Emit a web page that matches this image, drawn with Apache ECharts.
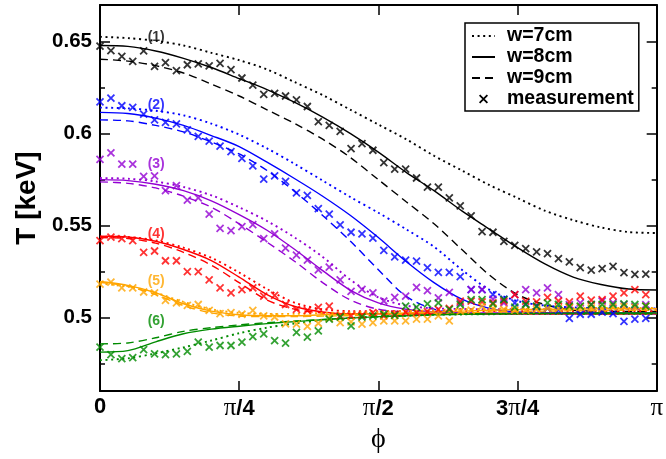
<!DOCTYPE html>
<html><head><meta charset="utf-8">
<script src="https://cdn.jsdelivr.net/npm/echarts@6/dist/echarts.min.js"></script>
<style>html,body{margin:0;padding:0;background:#fff}#c{width:666px;height:459px}</style>
</head><body><div id="c"></div>
<script>
// ---- data ----
const xTickValues = [0, 0.25, 0.5, 0.75, 1];
const xTickLabels = ['0', 'π/4', 'π/2', '3π/4', 'π'];
const yTickValues = [0.5, 0.55, 0.6, 0.65];
const yTickLabels = ['0.5', '0.55', '0.6', '0.65'];
const yMinorTicks = [0.475, 0.525, 0.575, 0.625];
const legendNames = ['w=7cm', 'w=8cm', 'w=9cm', 'measurement'];
const groupLabels = ['(1)', '(2)', '(3)', '(4)', '(5)', '(6)'];
const groupLabelX = [0.101, 0.101, 0.101, 0.101, 0.101, 0.101];
const groupLabelY = [0.6527, 0.6153, 0.5837, 0.5455, 0.5196, 0.4982];

// phi in units of pi
const phiCurve = [0,0.05,0.1,0.15,0.2,0.25,0.3,0.35,0.4,0.45,0.5,0.55,0.6,0.65,0.7,0.75,0.8,0.85,0.9,0.95,1];
const phiMeas = [0,0.0196,0.0392,0.0588,0.0784,0.098,0.1176,0.1373,0.1569,0.1765,0.1961,0.2157,0.2353,0.2549,0.2745,0.2941,0.3137,0.3333,0.3529,0.3725,0.3922,0.4118,0.4314,0.451,0.4706,0.4902,0.5098,0.5294,0.549,0.5686,0.5882,0.6078,0.6275,0.6471,0.6667,0.6863,0.7059,0.7255,0.7451,0.7647,0.7843,0.8039,0.8235,0.8431,0.8627,0.8824,0.902,0.9216,0.9412,0.9608,0.9804];

const c1Dot = [0.6527,0.652,0.6505,0.648,0.644,0.640,0.635,0.628,0.621,0.613,0.605,0.597,0.588,0.580,0.572,0.565,0.558,0.553,0.549,0.5465,0.546];
const c1Sol = [0.648,0.6475,0.645,0.641,0.636,0.630,0.624,0.617,0.609,0.600,0.590,0.579,0.569,0.558,0.548,0.538,0.529,0.522,0.518,0.5155,0.515];
const c1Das = [0.6405,0.6395,0.637,0.633,0.627,0.6205,0.613,0.6055,0.597,0.587,0.575,0.563,0.551,0.537,0.523,0.5125,0.507,0.504,0.5035,0.5033,0.5033];
const c2Dot = [0.6142,0.6138,0.6125,0.610,0.6055,0.5995,0.592,0.5835,0.5745,0.5655,0.557,0.548,0.5385,0.526,0.515,0.509,0.5065,0.5055,0.505,0.505,0.505];
const c2Sol = [0.6116,0.611,0.6085,0.6045,0.599,0.593,0.5845,0.5755,0.566,0.5555,0.5435,0.5305,0.519,0.510,0.505,0.503,0.5027,0.5027,0.5027,0.5027,0.5027];
const c2Das = [0.6075,0.607,0.6045,0.601,0.5955,0.589,0.580,0.5685,0.5555,0.5415,0.526,0.5115,0.5045,0.5025,0.502,0.502,0.502,0.502,0.502,0.502,0.502];
const c3Dot = [0.5759,0.5755,0.574,0.571,0.5665,0.560,0.5525,0.5435,0.533,0.5205,0.511,0.5065,0.505,0.5047,0.5045,0.5045,0.5045,0.5045,0.5045,0.5045,0.5045];
const c3Sol = [0.575,0.5745,0.5725,0.569,0.5635,0.556,0.5475,0.537,0.5255,0.5148,0.508,0.5045,0.503,0.5025,0.5025,0.5025,0.5025,0.5025,0.5025,0.5025,0.5025];
const c3Das = [0.5738,0.573,0.5705,0.566,0.560,0.551,0.541,0.5305,0.519,0.5095,0.5045,0.503,0.5025,0.5022,0.5022,0.5022,0.5022,0.5022,0.5022,0.5022,0.5022];
const c4Dot = [0.544,0.5438,0.542,0.538,0.5325,0.5245,0.5155,0.508,0.5045,0.5035,0.5035,0.5035,0.5035,0.5035,0.5035,0.5035,0.5035,0.5035,0.5035,0.5035,0.5035];
const c4Sol = [0.5442,0.5438,0.5415,0.537,0.531,0.522,0.5125,0.506,0.503,0.502,0.502,0.502,0.502,0.502,0.502,0.502,0.502,0.502,0.502,0.502,0.502];
const c4Das = [0.5435,0.543,0.5405,0.5355,0.5285,0.519,0.5095,0.5045,0.5025,0.502,0.502,0.502,0.502,0.502,0.502,0.502,0.502,0.502,0.502,0.502,0.502];
const c5Dot = [0.5185,0.5168,0.5135,0.5085,0.5045,0.5025,0.502,0.502,0.5025,0.5028,0.503,0.5035,0.504,0.5045,0.5048,0.505,0.505,0.5051,0.5052,0.5052,0.5052];
const c5Sol = [0.5196,0.5175,0.5135,0.5075,0.5035,0.5015,0.501,0.501,0.5015,0.5018,0.502,0.5025,0.503,0.5035,0.504,0.5043,0.5045,0.5046,0.5047,0.5048,0.5048];
const c5Das = [0.5192,0.517,0.5125,0.5065,0.5025,0.5008,0.5005,0.5005,0.5008,0.501,0.5012,0.5016,0.502,0.5025,0.503,0.5033,0.5035,0.5037,0.5038,0.504,0.504];
const c6Dot = [0.4768,0.4778,0.4805,0.4838,0.4875,0.4915,0.4945,0.4968,0.4985,0.4997,0.5005,0.501,0.5015,0.5017,0.5018,0.502,0.502,0.502,0.502,0.502,0.502];
const c6Sol = [0.4812,0.482,0.4868,0.4912,0.4937,0.4953,0.4967,0.4978,0.4988,0.4997,0.5005,0.501,0.5015,0.5018,0.502,0.5022,0.5023,0.5024,0.5025,0.5025,0.5025];
const c6Das = [0.4857,0.4862,0.489,0.4925,0.4945,0.496,0.4972,0.4981,0.499,0.4998,0.5005,0.501,0.5015,0.5018,0.502,0.5022,0.5022,0.5022,0.5022,0.5022,0.5022];

const m1 = [0.6476,0.6452,0.642,0.6393,0.645,0.6366,0.6387,0.6343,0.6375,0.638,0.6369,0.6382,0.6348,0.6303,0.6264,0.6214,0.6219,0.6205,0.6184,0.6148,0.6066,0.6045,0.6013,0.5919,0.5946,0.591,0.5843,0.5807,0.5807,0.5759,0.571,0.571,0.5651,0.5607,0.5553,0.5468,0.5464,0.5414,0.5393,0.5375,0.5357,0.5348,0.5321,0.5303,0.5271,0.5258,0.5266,0.5278,0.5245,0.5235,0.5236];
const m2 = [0.6173,0.6193,0.6152,0.6143,0.6107,0.6075,0.6062,0.6053,0.6021,0.5986,0.596,0.5932,0.5902,0.5866,0.5825,0.5753,0.5771,0.5741,0.5678,0.5664,0.5592,0.5562,0.5504,0.5464,0.5455,0.5432,0.5366,0.533,0.5312,0.5307,0.5271,0.5246,0.5246,0.5223,0.5152,0.5152,0.5125,0.510,0.508,0.5075,0.506,0.505,0.504,0.4995,0.5018,0.5018,0.503,0.5022,0.4979,0.4991,0.4995];
const m3 = [0.586,0.5896,0.5834,0.5834,0.5768,0.5771,0.5691,0.5718,0.5639,0.5651,0.5562,0.5485,0.5473,0.5495,0.5505,0.5429,0.5455,0.5378,0.5339,0.5312,0.5259,0.5274,0.5205,0.5143,0.5153,0.5134,0.509,0.511,0.5116,0.5164,0.5146,0.5107,0.5137,0.508,0.5152,0.5152,0.510,0.508,0.5125,0.5152,0.5134,0.5161,0.5125,0.507,0.508,0.507,0.509,0.508,0.507,0.506,0.507];
const m4 = [0.5419,0.5437,0.5429,0.5419,0.5354,0.5362,0.5309,0.5309,0.525,0.525,0.5205,0.5161,0.5134,0.5152,0.5161,0.5116,0.5121,0.5071,0.5044,0.5039,0.5055,0.5062,0.5009,0.5009,0.5012,0.5027,0.5009,0.5018,0.503,0.5025,0.5032,0.5045,0.505,0.5089,0.5089,0.5085,0.508,0.509,0.5125,0.5089,0.5085,0.511,0.509,0.5085,0.5116,0.5095,0.5098,0.5116,0.5134,0.5152,0.5125];
const m5 = [0.5182,0.5193,0.5161,0.5161,0.5139,0.5134,0.5093,0.508,0.5066,0.5071,0.5039,0.5021,0.5027,0.5018,0.5039,0.5009,0.5003,0.4966,0.4964,0.4952,0.4969,0.4996,0.4973,0.4976,0.4964,0.4973,0.4982,0.4982,0.4982,0.4991,0.4991,0.5009,0.4982,0.5035,0.504,0.5062,0.505,0.5045,0.504,0.504,0.5045,0.505,0.5048,0.5055,0.5058,0.5052,0.505,0.5058,0.506,0.5055,0.5062];
const m6 = [0.4839,0.4798,0.4777,0.4782,0.4825,0.4803,0.4798,0.4803,0.4816,0.4866,0.4839,0.4848,0.4848,0.4866,0.4896,0.4911,0.4875,0.4861,0.492,0.4893,0.4928,0.4991,0.5003,0.4955,0.5003,0.5009,0.5018,0.5012,0.5062,0.5057,0.5075,0.508,0.5044,0.5071,0.5098,0.5098,0.5075,0.5098,0.5057,0.5071,0.5062,0.508,0.5071,0.5062,0.5062,0.5071,0.5071,0.5071,0.5075,0.5071,0.5062];

// ---- styling / build ----
const colors = ['#000000', '#0000ff', '#9400d3', '#ff0000', '#ffa500', '#008b00'];
const curves = [
  [c1Dot, c1Sol, c1Das], [c2Dot, c2Sol, c2Das], [c3Dot, c3Sol, c3Das],
  [c4Dot, c4Sol, c4Das], [c5Dot, c5Sol, c5Das], [c6Dot, c6Sol, c6Das]
];
const meas = [m1, m2, m3, m4, m5, m6];
const dashTypes = [[2, 3.6], 'solid', [8, 5]];
const crossPath = 'path://M0,0L10,10M10,0L0,10';
const crossLegend = 'path://M-4,-4M14,14M0,0L10,10M10,0L0,10';

const series = [];
curves.forEach((grp, k) => {
  grp.forEach((vals, j) => {
    series.push({
      type: 'line', symbol: 'none', smooth: 0.3, silent: true,
      data: phiCurve.map((p, i) => [p, vals[i]]),
      lineStyle: { color: colors[k], width: j === 0 ? 1.9 : 1.4, type: dashTypes[j] },
      z: 2
    });
  });
});
meas.forEach((vals, k) => {
  series.push({
    type: 'scatter', symbol: crossPath, symbolSize: 7, silent: true,
    data: phiMeas.map((p, i) => [p, vals[i]]),
    itemStyle: { color: colors[k], borderColor: colors[k], borderWidth: 1.8 },
    z: 3
  });
});
// group labels
series.push({
  type: 'scatter', symbolSize: 0, silent: true, z: 4,
  data: groupLabels.map((t, i) => ({
    value: [groupLabelX[i], groupLabelY[i]], name: t,
    label: { color: colors[i] }
  })),
  label: {
    show: true, position: 'inside', formatter: p => p.name,
    fontFamily: 'Liberation Sans', fontWeight: 'bold', fontSize: 14
  }
});
// legend dummy series
legendNames.forEach((n, j) => {
  if (j < 3) {
    series.push({ name: n, type: 'line', symbol: 'none', data: [],
      lineStyle: { color: '#000', width: 1.4, type: dashTypes[j] }, itemStyle: { color: '#000' } });
  } else {
    series.push({ name: n, type: 'scatter', symbol: crossPath, data: [],
      itemStyle: { color: '#000', borderColor: '#000', borderWidth: 1.8 } });
  }
});

const axisCommon = {
  type: 'value', splitLine: { show: false }
};
const option = {
  animation: false,
  backgroundColor: '#ffffff',
  grid: { left: 100, right: 5, top: 5, bottom: 61, containLabel: false },
  legend: {
    data: legendNames.map((n, j) => j === 3
      ? { name: n, icon: crossLegend, itemStyle: { opacity: 1, color: '#000', borderColor: '#000', borderWidth: 1.8 } }
      : { name: n }),
    orient: 'vertical', left: 465, top: 23,
    padding: [3, 5, 2, 6], itemGap: 1, itemWidth: 23, itemHeight: 14,
    borderColor: '#000', borderWidth: 1.5, backgroundColor: '#fff',
    selectedMode: false,
    itemStyle: { opacity: 0 },
    textStyle: { fontFamily: 'Liberation Sans', fontWeight: 'bold', fontSize: 19.5, color: '#000', padding: [0, 0, 0, 7] }
  },
  xAxis: [
    Object.assign({}, axisCommon, {
      position: 'bottom', min: 0, max: 1, interval: 0.25,
      name: 'ϕ', nameLocation: 'middle', nameGap: 20,
      nameTextStyle: { fontFamily: 'Liberation Serif, DejaVu Serif', fontSize: 28, color: '#000' },
      axisLine: { show: true, lineStyle: { color: '#000', width: 2 } },
      axisTick: { show: true, inside: true, length: 10, lineStyle: { color: '#000', width: 1.5 } },
      axisLabel: {
        show: true, margin: 5, color: '#000',
        formatter: v => {
          const idx = xTickValues.findIndex(t => Math.abs(t - v) < 1e-6);
          const s = idx >= 0 ? xTickLabels[idx] : '';
          return s.split('π').map(part => part ? '{b|' + part + '}' : '').join('{p|π}');
        },
        rich: {
          b: { fontFamily: 'Liberation Sans', fontWeight: 'bold', fontSize: 22, color: '#000' },
          p: { fontFamily: 'Liberation Serif', fontSize: 25, color: '#000' }
        }
      }
    }),
    Object.assign({}, axisCommon, {
      position: 'top', min: 0, max: 1, interval: 0.25,
      axisLine: { show: true, lineStyle: { color: '#000', width: 2 } },
      axisTick: { show: true, inside: true, length: 10, lineStyle: { color: '#000', width: 1.5 } },
      axisLabel: { show: false }
    })
  ],
  yAxis: [
    Object.assign({}, axisCommon, {
      position: 'left', min: 0.46, max: 0.67,
      name: 'T [keV]', nameLocation: 'middle', nameGap: 57,
      nameTextStyle: { fontFamily: 'Liberation Sans', fontWeight: 'bold', fontSize: 28, color: '#000' },
      axisLine: { show: true, lineStyle: { color: '#000', width: 2 } },
      axisTick: { show: true, inside: true, length: 10, customValues: yTickValues, lineStyle: { color: '#000', width: 1.5 } },
      axisLabel: {
        show: true, margin: 8, customValues: yTickValues,
        formatter: v => { const i = yTickValues.findIndex(t => Math.abs(t - v) < 1e-6); return i >= 0 ? yTickLabels[i] : ''; },
        fontFamily: 'Liberation Sans', fontWeight: 'bold', fontSize: 20.5, color: '#000'
      }
    }),
    Object.assign({}, axisCommon, {
      position: 'left', min: 0.46, max: 0.67,
      axisLine: { show: false },
      axisTick: { show: true, inside: true, length: 5, customValues: yMinorTicks, lineStyle: { color: '#000', width: 1.5 } },
      axisLabel: { show: false }
    }),
    Object.assign({}, axisCommon, {
      position: 'right', min: 0.46, max: 0.67,
      axisLine: { show: true, lineStyle: { color: '#000', width: 2 } },
      axisTick: { show: true, inside: true, length: 10, customValues: yTickValues, lineStyle: { color: '#000', width: 1.5 } },
      axisLabel: { show: false }
    }),
    Object.assign({}, axisCommon, {
      position: 'right', min: 0.46, max: 0.67,
      axisLine: { show: false },
      axisTick: { show: true, inside: true, length: 5, customValues: yMinorTicks, lineStyle: { color: '#000', width: 1.5 } },
      axisLabel: { show: false }
    })
  ],
  series: series
};
const chart = echarts.init(document.getElementById('c'), null, { renderer: 'canvas' });
chart.setOption(option);
</script>
</body></html>
